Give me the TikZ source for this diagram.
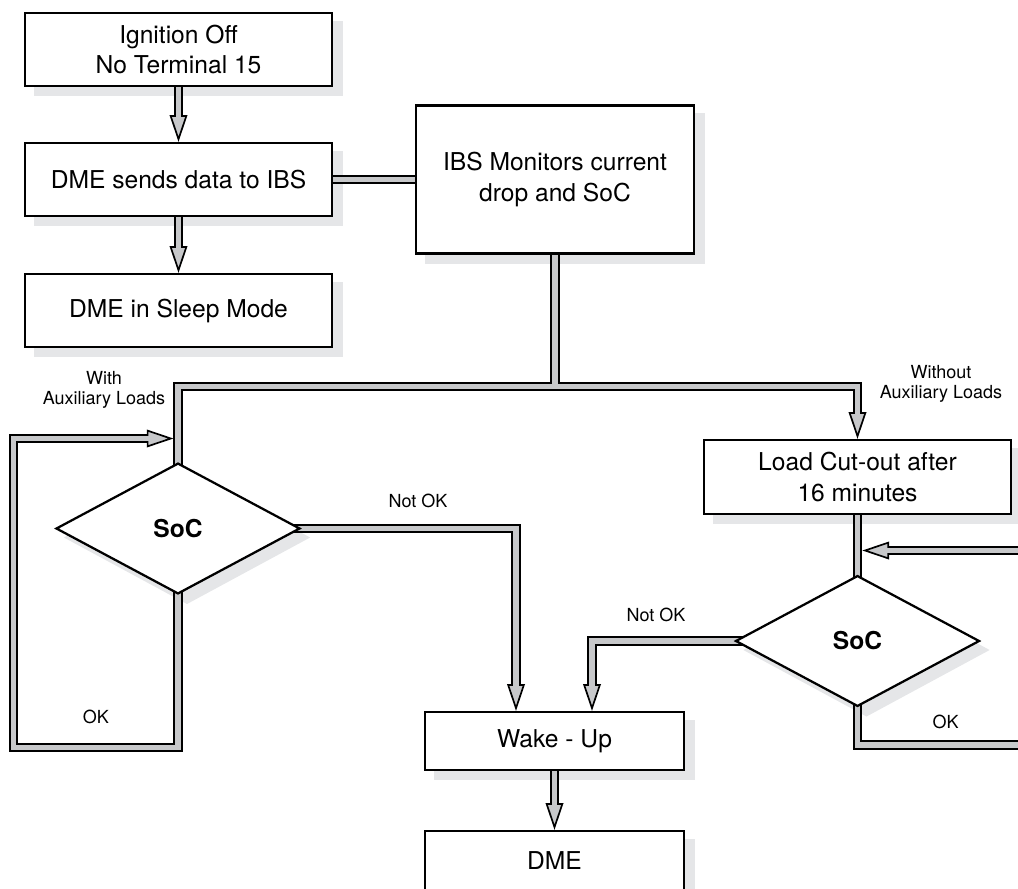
\documentclass[tikz,border=0pt]{standalone}
\usepackage{fontspec}
\setmainfont{TeX Gyre Heros}
\usetikzlibrary{shapes.geometric,arrows.meta,backgrounds}

\definecolor{pipegray}{RGB}{199,200,202}
\definecolor{shadowgray}{RGB}{229,230,232}

\begin{document}
\begin{tikzpicture}[x=0.25mm, y=-0.25mm,
    box/.style={draw, line width=1.6pt, fill=white, align=center, inner sep=0pt,
        font=\fontsize{17.5}{21.5}\selectfont},
    decision/.style={diamond, draw, line width=1.6pt, fill=white, inner sep=0pt,
        minimum width=61mm, minimum height=32.7mm, font=\fontsize{17.5}{21.5}\selectfont\bfseries},
    note/.style={align=center, font=\fontsize{12.8}{14.2}\selectfont},
    pipe/.style={line width=6.6pt, postaction={draw=pipegray, line width=4pt, -, shorten >=#1}},
    pipe/.default=0pt,
    pipetip/.style={pipe=17pt, -{Triangle[length=19pt, width=12.5pt, line width=1.2pt, fill=pipegray]}}]

    \useasboundingbox (0,0) rectangle (1018,888);

    % Boxes
    \node[box, minimum width=76.75mm, minimum height=18.25mm] (ign) at (178.5,49.5) {Ignition Off\\No Terminal 15};
    \node[box, minimum width=76.75mm, minimum height=18.25mm] (send) at (178.5,179.5) {DME sends data to IBS};
    \node[box, minimum width=76.75mm, minimum height=18.25mm] (sleep) at (178.5,310.5) {DME in Sleep Mode};
    \node[box, minimum width=69.5mm, minimum height=37mm] (ibs) at (555,179.5) {IBS Monitors current\\drop and SoC};
    \node[box, minimum width=76.75mm, minimum height=18.5mm] (cut) at (857.5,477) {Load Cut-out after\\16 minutes};
    \node[box, minimum width=64.75mm, minimum height=14.5mm] (wake) at (554.5,741) {Wake - Up};
    \node[box, minimum width=64.75mm, minimum height=15mm] (dme) at (554.5,861) {DME};

    % Decisions
    \node[decision] (s1) at (178,528.5) {SoC};
    \node[decision] (s2) at (857.5,641) {SoC};

    % Labels
    \node[note] (withaux) at (104,390) {With\\Auxiliary Loads};
    \node[note] (withoutaux) at (941,384) {Without\\Auxiliary Loads};
    \node[note] (notokl) at (418,501) {Not OK};
    \node[note] (notokr) at (656,615) {Not OK};
    \node[note] (okleft) at (96,717) {OK};
    \node[note] (okright) at (945.5,722) {OK};

    % Turning points
    \coordinate (split) at (555,386.5);
    \coordinate (okl) at (13.5,747.5);
    \coordinate (loopl) at (173.5,438.5);
    \coordinate (okr) at (1040,745);
    \coordinate (loopr) at (862.3,550.5);
    \path (wake.north) ++(-38.5,0) coordinate (wakel);
    \path (wake.north) ++(37.5,0) coordinate (waker);

    \begin{scope}[on background layer]
        % Shadows
        \foreach \n in {ign,send,sleep,ibs,cut,wake,dme}
            \fill[shadowgray] ([shift={(10,9)}]\n.south west) rectangle ([shift={(10,9)}]\n.north east);
        \foreach \n in {s1,s2}
            \fill[shadowgray] ([shift={(9,9)}]\n.north) -- ([shift={(9,9)}]\n.east)
                -- ([shift={(9,9)}]\n.south) -- ([shift={(9,9)}]\n.west) -- cycle;

        % Pipes
        \draw[pipetip] (ign.center) -- (send.north);
        \draw[pipetip] (send.center) -- (sleep.north);
        \draw[pipe] (send.center) -- (ibs.center);
        \draw[pipetip] (ibs.center) -- (split) (s1.center) |- (split) -| (cut.north);
        \draw[pipetip] (s1.center) |- (okl) |- (loopl);
        \draw[pipetip] (s1.center) -| (wakel);
        \draw[pipe] (cut.center) -- (s2.center);
        \draw[pipetip] (s2.center) -| (waker);
        \draw[pipetip] (s2.center) |- (okr) |- (loopr);
        \draw[pipetip] (wake.center) -- (dme.north);
    \end{scope}
\end{tikzpicture}
\end{document}
